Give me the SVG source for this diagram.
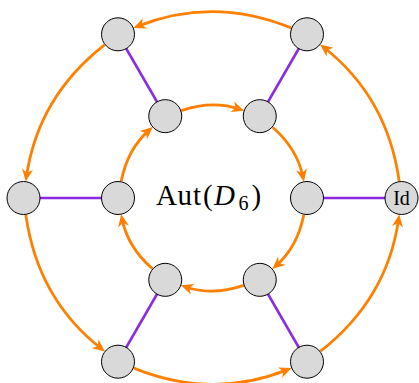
<svg xmlns="http://www.w3.org/2000/svg" width="419" height="383" viewBox="0 0 419 383">
  <style>
    .node { fill: #d9d9d9; stroke: #000000; stroke-width: 1; }
    .spoke { stroke: #8a2be2; stroke-width: 2.7; fill: none; }
    .arc { stroke: #ff8000; stroke-width: 2.8; fill: none; marker-end: url(#tip); }
    .lbl { font-family: "Liberation Serif", "DejaVu Serif", serif; fill: #000000; }
  </style>
  <defs>
    <marker id="tip" markerUnits="userSpaceOnUse" viewBox="-10 -7 16 14" markerWidth="16" markerHeight="14" refX="0" refY="0" orient="auto">
      <path d="M4.5,0 L-8,-5.5 L-4.5,0 L-8,5.5 Z" fill="#ff8000"/>
    </marker>
  </defs>
  <rect width="419" height="383" fill="#ffffff"/>

  <g id="connectors">
    <g id="spokes">
      <line class="spoke" x1="401.5" y1="198" x2="307" y2="198"/>
      <line class="spoke" x1="307" y1="34.3" x2="259.75" y2="116.16"/>
      <line class="spoke" x1="118" y1="34.3" x2="165.25" y2="116.16"/>
      <line class="spoke" x1="23.5" y1="198" x2="118" y2="198"/>
      <line class="spoke" x1="118" y1="361.7" x2="165.25" y2="279.84"/>
      <line class="spoke" x1="307" y1="361.7" x2="259.75" y2="279.84"/>
    </g>
    <g id="outer-arcs">
      <path class="arc" d="M291.2,27.9 Q212.5,-3.9 137.5,26.4"/>
      <path class="arc" d="M291.2,27.9 Q212.5,-3.9 137.5,26.4" transform="rotate(-60 212.5 198)"/>
      <path class="arc" d="M291.2,27.9 Q212.5,-3.9 137.5,26.4" transform="rotate(-120 212.5 198)"/>
      <path class="arc" d="M291.2,27.9 Q212.5,-3.9 137.5,26.4" transform="rotate(-180 212.5 198)"/>
      <path class="arc" d="M291.2,27.9 Q212.5,-3.9 137.5,26.4" transform="rotate(-240 212.5 198)"/>
      <path class="arc" d="M291.2,27.9 Q212.5,-3.9 137.5,26.4" transform="rotate(-300 212.5 198)"/>
    </g>
    <g id="inner-arcs">
      <path class="arc" d="M181.3,110.6 Q212.5,99.9 239.9,109.3"/>
      <path class="arc" d="M181.3,110.6 Q212.5,99.9 239.9,109.3" transform="rotate(60 212.5 198)"/>
      <path class="arc" d="M181.3,110.6 Q212.5,99.9 239.9,109.3" transform="rotate(120 212.5 198)"/>
      <path class="arc" d="M181.3,110.6 Q212.5,99.9 239.9,109.3" transform="rotate(180 212.5 198)"/>
      <path class="arc" d="M181.3,110.6 Q212.5,99.9 239.9,109.3" transform="rotate(240 212.5 198)"/>
      <path class="arc" d="M181.3,110.6 Q212.5,99.9 239.9,109.3" transform="rotate(300 212.5 198)"/>
    </g>
  </g>

  <g id="node-id"><circle class="node" cx="401.5" cy="198" r="16.5"/><text class="lbl" x="401.5" y="205" font-size="20" text-anchor="middle">Id</text></g>
  <g id="node-o60"><circle class="node" cx="307" cy="34.3" r="16.5"/></g>
  <g id="node-o120"><circle class="node" cx="118" cy="34.3" r="16.5"/></g>
  <g id="node-o180"><circle class="node" cx="23.5" cy="198" r="16.5"/></g>
  <g id="node-o240"><circle class="node" cx="118" cy="361.7" r="16.5"/></g>
  <g id="node-o300"><circle class="node" cx="307" cy="361.7" r="16.5"/></g>
  <g id="node-i0"><circle class="node" cx="307" cy="198" r="16.5"/></g>
  <g id="node-i60"><circle class="node" cx="259.75" cy="116.16" r="16.5"/></g>
  <g id="node-i120"><circle class="node" cx="165.25" cy="116.16" r="16.5"/></g>
  <g id="node-i180"><circle class="node" cx="118" cy="198" r="16.5"/></g>
  <g id="node-i240"><circle class="node" cx="165.25" cy="279.84" r="16.5"/></g>
  <g id="node-i300"><circle class="node" cx="259.75" cy="279.84" r="16.5"/></g>

  <g id="title">
    <text class="lbl" y="205" font-size="29"><tspan x="156">A</tspan><tspan x="177.5">u</tspan><tspan x="193">t</tspan><tspan x="203">(</tspan><tspan x="214" font-style="italic">D</tspan><tspan x="238.5" y="210" font-size="20" font-style="normal">6</tspan><tspan x="251.5" y="205">)</tspan></text>
  </g>
</svg>
